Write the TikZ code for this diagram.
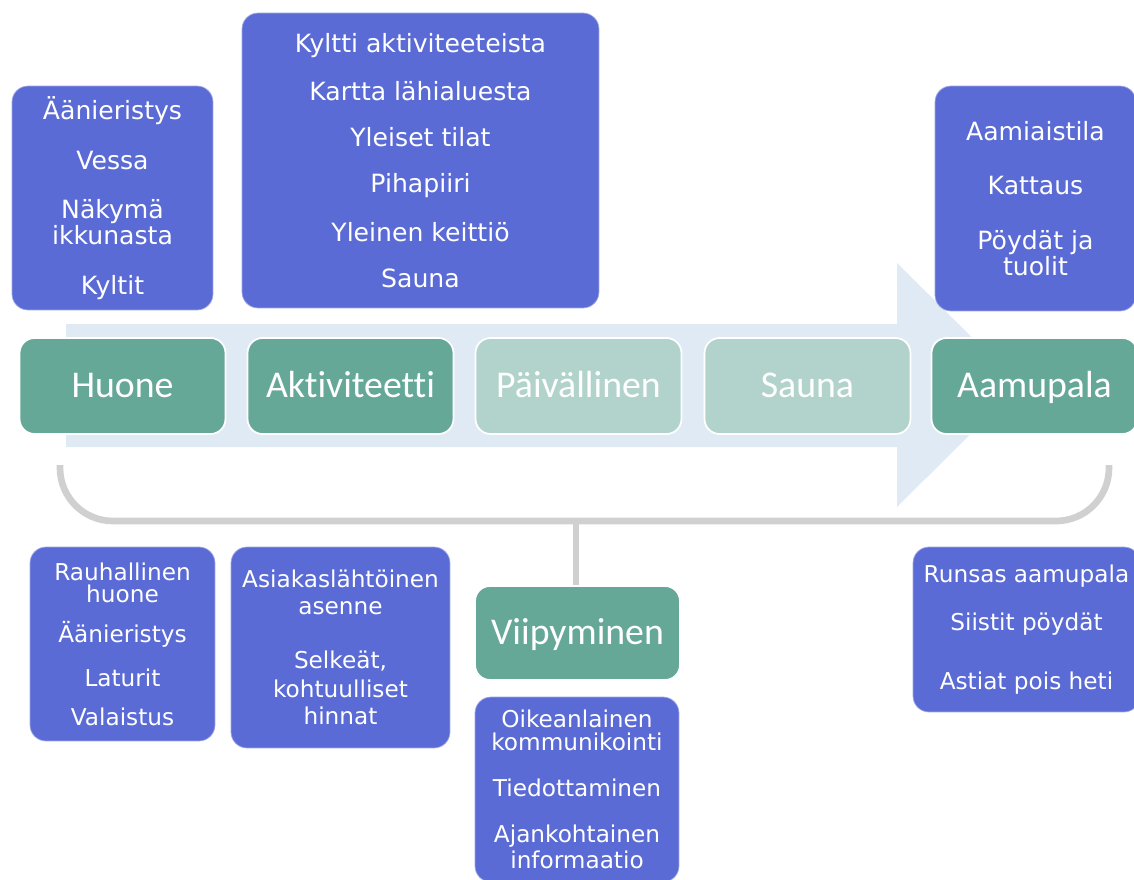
\documentclass[tikz,border=0pt]{standalone}
\usepackage{fontspec}
\setmainfont{DejaVu Sans}
\newfontfamily\phasefont{Carlito}[Ligatures=NoCommon]
\definecolor{noteblue}{RGB}{91,107,214}
\definecolor{phasegreen}{RGB}{102,168,152}
\definecolor{phasepale}{RGB}{178,211,203}
\definecolor{arrowblue}{RGB}{223,234,245}
\definecolor{bracegray}{RGB}{208,208,208}
\begin{document}
\begin{tikzpicture}[
		x=0.02cm, y=-0.02cm,
		note/.style={rectangle, rounded corners=0.32cm, fill=noteblue, draw=noteblue!60!white, line width=0.4pt, text=white, align=center, inner sep=0pt, font=\fontsize{14.3}{13.6}\selectfont},
		notesmall/.style={note, font=\fontsize{13.2}{11.4}\selectfont},
		phase/.style={rectangle, rounded corners=0.3cm, fill=phasegreen, draw=white, line width=1pt, text=white, minimum width=4.12cm, minimum height=1.92cm, inner sep=0pt, font=\phasefont\fontsize{21.5}{24}\selectfont, text height=13.5pt, text depth=0pt},
		phasefaint/.style={phase, fill=phasepale},
		brace/.style={draw=bracegray, line width=3.8pt}
		]
		
		\useasboundingbox (0,0) rectangle (1134,880);
		\clip (0,0) rectangle (1134,880);
		
		% Background arrow
		\fill[arrowblue] (66,324) -- (897,324) -- (897,263) -- (1020,385) -- (897,507) -- (897,447) -- (66,447) -- cycle;
		
		% -------- Phases --------
		\node[phase] (huone) at (122.5,386) {Huone};
		\node[phase] (aktiv) at (350.5,386) {Aktiviteetti};
		\node[phasefaint] (paiva) at (578.5,386) {Päivällinen};
		\node[phasefaint] (sauna) at (807.5,386) {Sauna};
		\node[phase] (aamu) at (1034.5,386) {Aamupala};
		
		% -------- Notes above --------
		\node[note, minimum width=4.02cm, minimum height=4.48cm] (huoneTop) at (112.5,198) {Äänieristys\\[14.6pt]Vessa\\[14.6pt]Näkymä\\ikkunasta\\[14.6pt]Kyltit};
		\node[note, minimum width=7.14cm, minimum height=5.9cm] (aktivTop) at (420.5,160.5) {Kyltti aktiviteeteista\\[12.6pt]Kartta lähialuesta\\[12.6pt]Yleiset tilat\\[12.6pt]Pihapiiri\\[12.6pt]Yleinen keittiö\\[12.6pt]Sauna};
		\node[note, minimum width=4.02cm, minimum height=4.5cm] (aamuTop) at (1035.5,198.5) {Aamiaistila\\[17.3pt]Kattaus\\[17.3pt]Pöydät ja\\tuolit};
		
		% -------- Bracket and lingering --------
		\coordinate (braceL) at (60,465);
		\coordinate (braceR) at (1109,465);
		\coordinate (braceMid) at (576,521);
		\draw[brace, rounded corners=1.06cm] (braceL) |- (braceMid) -| (braceR);
		\node[phase, minimum width=4.1cm, minimum height=1.88cm] (viip) at (577.5,633) {Viipyminen};
		\draw[brace] (braceMid) -- (braceMid |- viip.north);
		
		% -------- Notes below --------
		\node[notesmall, minimum width=3.7cm, minimum height=3.88cm] (huoneBot) at (122.5,644) {Rauhallinen\\[1pt]huone\\[10pt]Äänieristys\\[10.8pt]Laturit\\[10.8pt]Valaistus};
		\node[notesmall, minimum width=4.38cm, minimum height=4.02cm] (aktivBot) at (340.5,647.5) {Asiakaslähtöinen\\[4pt]asenne\\[19.3pt]Selkeät,\\[4pt]kohtuulliset\\[4pt]hinnat};
		\node[notesmall, minimum width=4.08cm, minimum height=3.7cm] (viipBot) at (577,789.5) {Oikeanlainen\\[1.2pt]kommunikointi\\[14.8pt]Tiedottaminen\\[14.8pt]Ajankohtainen\\[1.2pt]informaatio};
		\node[notesmall, minimum width=4.54cm, minimum height=3.3cm] (aamuBot) at (1026.5,629.5) {Runsas aamupala\\[13.6pt]Siistit pöydät\\[19.9pt]Astiat pois heti};
		
	\end{tikzpicture}
\end{document}
